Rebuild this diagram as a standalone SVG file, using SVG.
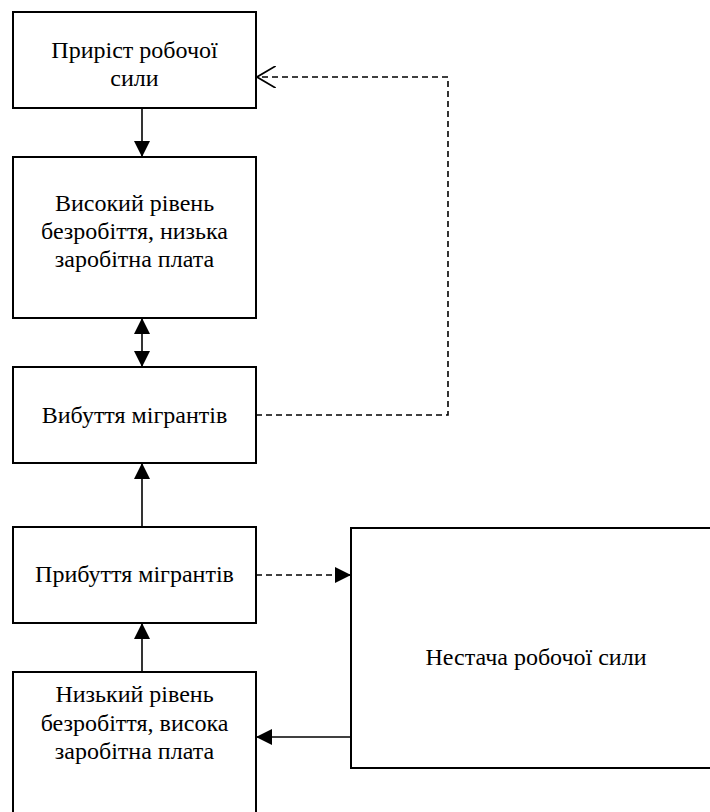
<svg xmlns="http://www.w3.org/2000/svg" width="710" height="812" viewBox="0 0 710 812">
<defs>
<style>
.box{fill:#fff;stroke:#000;stroke-width:2}
.c{fill:none;stroke:#000;stroke-width:1.6}
.d{fill:none;stroke:#000;stroke-width:1.6;stroke-dasharray:6 4}
text{font-family:'Liberation Serif','Times New Roman',serif;font-size:24px;fill:#000;text-anchor:middle}
</style>
<marker id="fa" markerUnits="userSpaceOnUse" markerWidth="16" markerHeight="16" viewBox="0 0 15 15" refX="15" refY="7.5" orient="auto-start-reverse">
<path d="M0,0 L15,7.5 L0,15 Z" fill="#000"/>
</marker>
<marker id="oa" markerUnits="userSpaceOnUse" markerWidth="20" markerHeight="22" viewBox="0 0 18 20" refX="17" refY="10" orient="auto">
<path d="M0,0 L17,10 L0,20" fill="none" stroke="#000" stroke-width="1.6"/>
</marker>
</defs>
<rect width="710" height="812" fill="#fff"/>
<g id="connectors">
<line class="c" x1="142" y1="108" x2="142" y2="157" marker-end="url(#fa)"/>
<line class="c" x1="142" y1="318" x2="142" y2="367" marker-start="url(#fa)" marker-end="url(#fa)"/>
<line class="c" x1="142" y1="527" x2="142" y2="463" marker-end="url(#fa)"/>
<line class="c" x1="142" y1="672" x2="142" y2="623" marker-end="url(#fa)"/>
<line class="c" x1="351" y1="737" x2="256" y2="737" marker-end="url(#fa)"/>
<line class="d" x1="256" y1="575" x2="351" y2="575" marker-end="url(#fa)"/>
<polyline class="d" points="256,415 448,415 448,77 257,77" marker-end="url(#oa)"/>
</g>
<g id="n1">
<rect class="box" x="13" y="12" width="243" height="96"/>
<text x="134.5" y="58">Приріст робочої</text>
<text x="134.5" y="86">сили</text>
</g>
<g id="n2">
<rect class="box" x="13" y="157" width="243" height="161"/>
<text x="134.5" y="211">Високий рівень</text>
<text x="134.5" y="239">безробіття, низька</text>
<text x="134.5" y="267">заробітна плата</text>
</g>
<g id="n3">
<rect class="box" x="13" y="367" width="243" height="96"/>
<text x="134.5" y="423">Вибуття мігрантів</text>
</g>
<g id="n4">
<rect class="box" x="13" y="527" width="243" height="96"/>
<text x="134.5" y="582">Прибуття мігрантів</text>
</g>
<g id="n5">
<rect class="box" x="351" y="528" width="370" height="240"/>
<text x="536" y="665">Нестача робочої сили</text>
</g>
<g id="n6">
<rect class="box" x="13" y="672" width="243" height="160"/>
<text x="134.5" y="702">Низький рівень</text>
<text x="134.5" y="731">безробіття, висока</text>
<text x="134.5" y="759">заробітна плата</text>
</g>
</svg>
